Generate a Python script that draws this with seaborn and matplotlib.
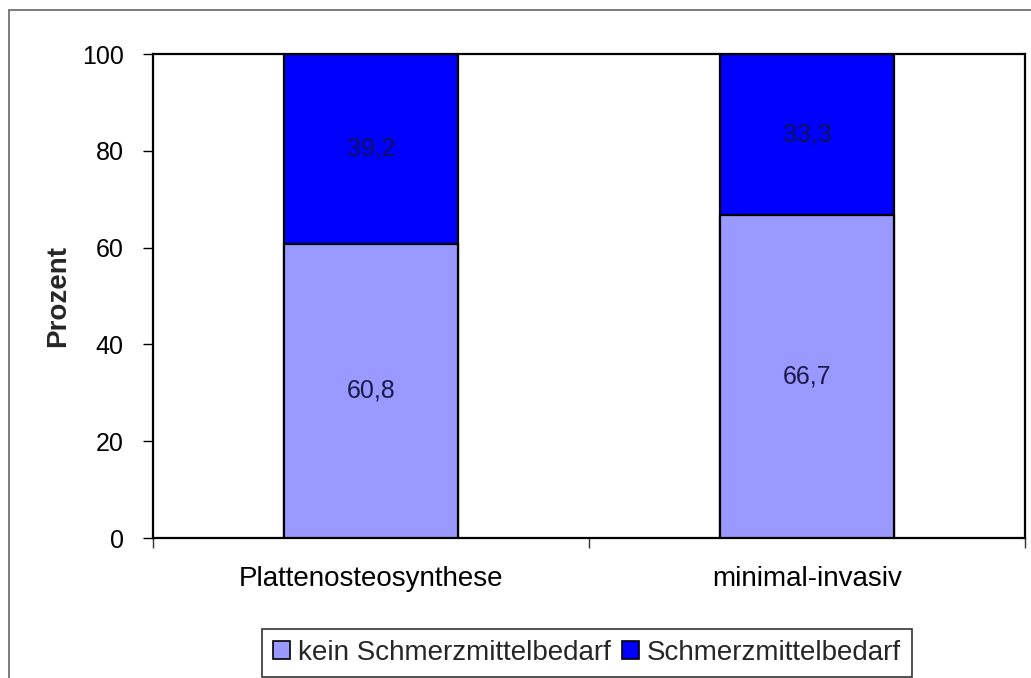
import matplotlib
matplotlib.use("Agg")
import matplotlib.pyplot as plt
import matplotlib.patches as mpatches
import seaborn as sns
import pandas as pd

# Data
categories = ["Plattenosteosynthese", "minimal-invasiv"]
kein_bedarf = [60.8, 66.7]
bedarf = [39.2, 33.3]
series_names = ["kein Schmerzmittelbedarf", "Schmerzmittelbedarf"]
y_ticks = [0, 20, 40, 60, 80, 100]

color_light = "#9999FF"
color_dark = "#0000FF"

sns.set_theme(style="white")
plt.rcParams["font.family"] = ["Liberation Sans", "DejaVu Sans"]

df = pd.DataFrame({
    "Gruppe": categories,
    "kein": kein_bedarf,
    "mit": bedarf,
})
df["gesamt"] = df["kein"] + df["mit"]

fig = plt.figure(figsize=(10.31, 6.78), dpi=100)
ax = fig.add_axes([153 / 1031, 1 - 538 / 678, (1025 - 153) / 1031, (538 - 54) / 678])

# Stacked bars: full height in dark blue, lower part in light blue on top
sns.barplot(data=df, x="Gruppe", y="gesamt", color=color_dark, saturation=1,
            width=0.4, edgecolor="black", linewidth=1.6, ax=ax, zorder=2)
sns.barplot(data=df, x="Gruppe", y="kein", color=color_light, saturation=1,
            width=0.4, edgecolor="black", linewidth=1.6, ax=ax, zorder=3)

def fmt(v):
    return f"{v:.1f}".replace(".", ",")

# Value labels centred in each segment
bars_total = ax.containers[0]
bars_low = ax.containers[1]
ax.bar_label(bars_low, labels=[fmt(v) for v in kein_bedarf], label_type="center",
             fontsize=18, color="#1a1a4a", zorder=5)
for rect, low, top in zip(bars_total, kein_bedarf, bedarf):
    ax.text(rect.get_x() + rect.get_width() / 2, low + top / 2, fmt(top),
            ha="center", va="center", fontsize=18, color="#10105a", zorder=5)

ax.set_xlim(-0.5, 1.5)
ax.set_ylim(0, 100)
ax.set_yticks(y_ticks)
ax.set_yticklabels([str(t) for t in y_ticks])
ax.set_xticks(range(len(categories)))
ax.set_xticklabels(categories)
ax.set_xticks([-0.5, 0.5, 1.5], minor=True)
ax.tick_params(axis="x", which="major", length=0, pad=20, labelsize=20, colors="black")
ax.tick_params(axis="x", which="minor", length=7, width=1, direction="out", bottom=True,
               color="#333333")
ax.tick_params(axis="y", which="major", length=7, width=1, direction="out", left=True,
               pad=14, labelsize=18, colors="black")
ax.set_xlabel("")
ax.set_ylabel("Prozent", fontsize=20, fontweight="bold", labelpad=8)

for side in ["top", "right", "bottom", "left"]:
    ax.spines[side].set_visible(True)
    ax.spines[side].set_color("black")
    ax.spines[side].set_linewidth(1.6)

# Legend
handles = [mpatches.Patch(facecolor=color_light, edgecolor="black", linewidth=1.2),
           mpatches.Patch(facecolor=color_dark, edgecolor="black", linewidth=1.2)]
leg = fig.legend(handles, series_names, loc="center", ncol=2,
                 bbox_to_anchor=(587 / 1031, 1 - 653 / 678), fontsize=20,
                 frameon=True, fancybox=False, shadow=False,
                 handlelength=0.6, handleheight=0.6, handletextpad=0.3,
                 columnspacing=0.4, borderpad=0.4, borderaxespad=0)
leg.get_frame().set_edgecolor("black")
leg.get_frame().set_linewidth(1.2)

# Outer chart frame
frame = mpatches.Rectangle((9 / 1031, -0.05), 1.1, (678 - 10) / 678 + 0.05,
                           transform=fig.transFigure, fill=False,
                           edgecolor="#666666", linewidth=1.2, clip_on=False)
fig.patches.append(frame)

fig.savefig("out.png", dpi=100)
